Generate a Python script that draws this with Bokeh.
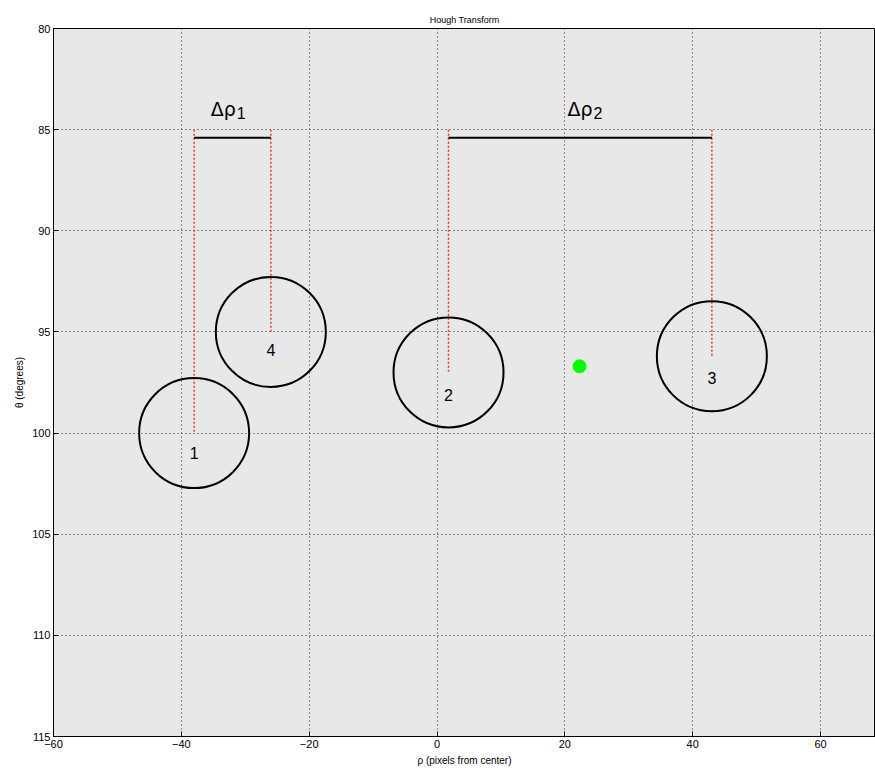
from bokeh.plotting import figure
from bokeh.models import Range1d, FixedTicker, ColumnDataSource
from bokeh.core.properties import value
from bokeh.embed import file_html
from bokeh.resources import INLINE

# Data
circle_ids = ["1", "4", "2", "3"]
circle_rho = [-38.0, -26.0, 1.8, 43.0]
circle_theta = [100.0, 95.0, 97.0, 96.2]
label_theta = [101.0, 95.9, 98.1, 97.3]

bar_rho_start = [-38.0, 1.8]
bar_rho_end = [-26.0, 43.0]
bar_theta = 85.4
dline_top = 85.0

delta_labels = ["Δρ", "Δρ"]
delta_subs = ["1", "2"]
delta_rho = [-35.4, 20.4]
delta_theta = 84.0

green_rho = [22.3]
green_theta = [96.7]

x_ticks = [-60, -40, -20, 0, 20, 40, 60]
y_ticks = [80, 85, 90, 95, 100, 105, 110, 115]

p = figure(width=875, height=773, output_backend="svg", toolbar_location=None,
           x_range=Range1d(-60, 68.6), y_range=Range1d(115, 80),
           title="Hough Transform",
           min_border_left=53, min_border_right=0, min_border_top=28, min_border_bottom=37)

p.title.align = "center"
p.title.text_font = "Liberation Sans"
p.title.text_font_size = "9px"
p.title.text_font_style = "normal"
p.title.text_color = "black"
p.title.standoff = 8

p.background_fill_color = "#e8e8e8"
p.border_fill_color = "white"
p.outline_line_color = "black"
p.outline_line_width = 1

for ax, ticks in ((p.xaxis, x_ticks), (p.yaxis, y_ticks)):
    ax.ticker = FixedTicker(ticks=ticks)
    ax.major_tick_in = 5
    ax.major_tick_out = 0
    ax.minor_tick_line_color = None
    ax.major_label_text_font = "Liberation Sans"
    ax.major_label_text_font_size = "11px"
    ax.major_label_text_color = "black"
    ax.axis_label_text_font = "Liberation Sans"
    ax.axis_label_text_font_size = "10px"
    ax.axis_label_text_font_style = "normal"
    ax.axis_label_text_color = "black"
    ax.axis_line_color = "black"
    ax.major_tick_line_color = "black"
    ax.major_label_standoff = 3
    ax.axis_label_standoff = 4

p.xaxis.axis_label = "ρ (pixels from center)"
p.yaxis.axis_label = "θ (degrees)"

p.grid.grid_line_color = "black"
p.grid.grid_line_dash = "1 3"
p.grid.grid_line_alpha = 0.8
p.grid.grid_line_width = 1

# red dotted vertical lines from the bar down to each circle centre
p.segment(x0=circle_rho, y0=[dline_top] * 4, x1=circle_rho, y1=circle_theta,
          line_color="red", line_dash="2 2", line_width=1.5, line_alpha=0.8)

# horizontal black bars
p.segment(x0=bar_rho_start, y0=[bar_theta] * 2, x1=bar_rho_end, y1=[bar_theta] * 2,
          line_color="black", line_width=2)

# circles
src = ColumnDataSource(dict(x=circle_rho, y=circle_theta))
p.scatter(x="x", y="y", source=src, marker="circle", size=110,
          fill_color=None, line_color="black", line_width=2)

# labels
p.text(x=circle_rho, y=label_theta, text=circle_ids, text_align="center",
       text_baseline="middle", text_font=value("Liberation Sans"),
       text_font_size="16px", text_color="black")

p.text(x=delta_rho, y=[delta_theta] * 2, text=delta_labels, text_align="left",
       text_baseline="middle", text_font=value("DejaVu Sans"),
       text_font_size="19px", text_color="black")
p.text(x=delta_rho, y=[delta_theta] * 2, text=delta_subs, text_align="left",
       text_baseline="top", x_offset=26, y_offset=-2, text_font=value("Liberation Sans"),
       text_font_size="16px", text_color="black")

# green point
p.scatter(x=green_rho, y=green_theta, size=13, fill_color="#00ff00",
          line_color="#00ff00")

open("out.html", "w").write(file_html(p, INLINE))
